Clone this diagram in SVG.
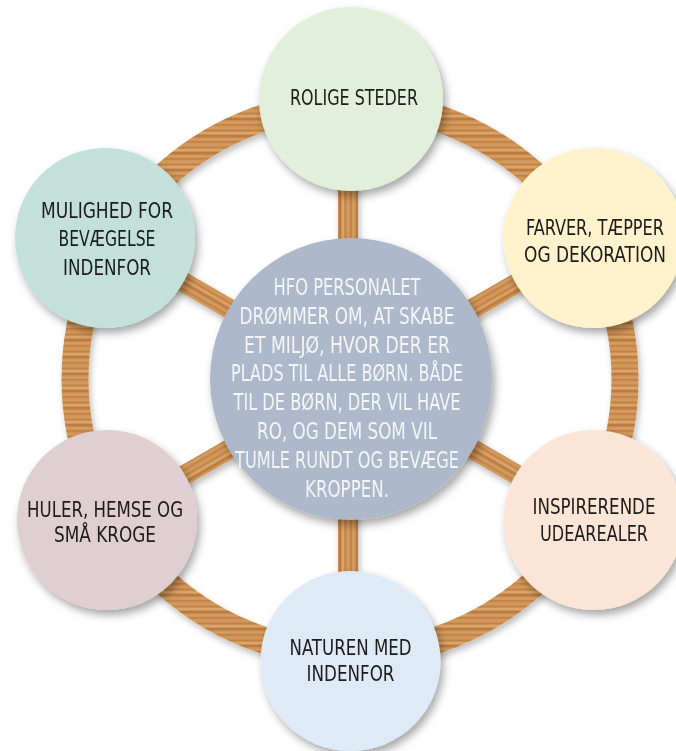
<svg xmlns="http://www.w3.org/2000/svg" width="676" height="751" viewBox="0 0 676 751">
<style>
.t{font-family:"Liberation Sans Narrow","DejaVu Sans Condensed","Liberation Sans",sans-serif;font-stretch:condensed;font-size:21.5px;fill:#1b1b1b;text-anchor:middle}
.c{font-family:"Liberation Sans Narrow","DejaVu Sans Condensed","Liberation Sans",sans-serif;font-stretch:condensed;font-size:22.5px;fill:#F4F5F7;text-anchor:middle}
.n{filter:url(#sh)}
</style>
<defs>
<filter id="sh" x="-20%" y="-20%" width="150%" height="150%">
<feDropShadow dx="3" dy="5" stdDeviation="4" flood-color="#000" flood-opacity="0.35"/>
</filter>
<filter id="shw" x="-10%" y="-10%" width="130%" height="130%">
<feDropShadow dx="2" dy="4" stdDeviation="3" flood-color="#000" flood-opacity="0.25"/>
</filter>
<pattern id="woodH" patternUnits="userSpaceOnUse" width="60" height="17">
<rect width="60" height="17" fill="#CD9052"/>
<rect y="0" width="60" height="1.2" fill="#BC7C40"/>
<rect y="2.5" width="60" height="2" fill="#D69E63"/>
<rect y="5.5" width="60" height="0.8" fill="#B8773C"/>
<rect y="7.5" width="60" height="2.5" fill="#D3995C"/>
<rect y="11" width="60" height="1" fill="#C08244"/>
<rect y="13" width="60" height="2.2" fill="#DAA56C"/>
<rect y="16" width="60" height="0.7" fill="#B3733A"/>
</pattern>
<pattern id="woodV" href="#woodH" patternTransform="rotate(90)"/>
<pattern id="woodA" href="#woodH" patternTransform="rotate(-30)"/>
<pattern id="woodB" href="#woodH" patternTransform="rotate(30)"/>
</defs>
<rect width="676" height="751" fill="#FFFFFF"/>
<g id="connectors" filter="url(#shw)">
<circle cx="350" cy="379" r="275" fill="none" stroke="url(#woodH)" stroke-width="27"/>
<line x1="348" y1="379" x2="348" y2="99" stroke="url(#woodV)" stroke-width="20"/>
<line x1="348" y1="379" x2="348" y2="659" stroke="url(#woodV)" stroke-width="20"/>
<line x1="351" y1="379" x2="593.5" y2="239" stroke="url(#woodA)" stroke-width="20"/>
<line x1="351" y1="379" x2="108.5" y2="519" stroke="url(#woodA)" stroke-width="20"/>
<line x1="351" y1="379" x2="593.5" y2="519" stroke="url(#woodB)" stroke-width="20"/>
<line x1="351" y1="379" x2="108.5" y2="239" stroke="url(#woodB)" stroke-width="20"/>
</g>
<g id="center" class="n">
<circle cx="351" cy="379" r="141" fill="#ADB9CA"/>
<text class="c" x="347" y="295" textLength="147" lengthAdjust="spacingAndGlyphs">HFO PERSONALET</text>
<text class="c" x="347" y="323.8" textLength="215" lengthAdjust="spacingAndGlyphs">DRØMMER OM, AT SKABE</text>
<text class="c" x="347" y="352.6" textLength="206" lengthAdjust="spacingAndGlyphs">ET MILJØ, HVOR  DER ER</text>
<text class="c" x="347" y="381.4" textLength="232" lengthAdjust="spacingAndGlyphs">PLADS TIL ALLE BØRN. BÅDE</text>
<text class="c" x="347" y="410.2" textLength="227" lengthAdjust="spacingAndGlyphs">TIL DE BØRN, DER VIL HAVE</text>
<text class="c" x="347" y="439" textLength="180" lengthAdjust="spacingAndGlyphs">RO, OG DEM SOM VIL</text>
<text class="c" x="347" y="467.8" textLength="224" lengthAdjust="spacingAndGlyphs">TUMLE RUNDT OG BEVÆGE</text>
<text class="c" x="347" y="496.6" textLength="84" lengthAdjust="spacingAndGlyphs">KROPPEN.</text>
</g>
<g id="rolige" class="n">
<circle cx="351" cy="99" r="92" fill="#E2EFDA"/>
<text class="t" x="354" y="104.5" textLength="128" lengthAdjust="spacingAndGlyphs">ROLIGE STEDER</text>
</g>
<g id="farver" class="n">
<circle cx="593.5" cy="238" r="90" fill="#FFF2CC"/>
<text class="t" x="595" y="234.5" textLength="138" lengthAdjust="spacingAndGlyphs">FARVER, TÆPPER</text>
<text class="t" x="595" y="261.5" textLength="142" lengthAdjust="spacingAndGlyphs">OG DEKORATION</text>
</g>
<g id="inspirerende" class="n">
<circle cx="593.5" cy="520" r="90" fill="#FBE5D6"/>
<text class="t" x="594" y="513.5" textLength="123" lengthAdjust="spacingAndGlyphs">INSPIRERENDE</text>
<text class="t" x="594" y="540.5" textLength="108" lengthAdjust="spacingAndGlyphs">UDEAREALER</text>
</g>
<g id="naturen" class="n">
<circle cx="350.5" cy="661" r="90" fill="#DEEBF7"/>
<text class="t" x="350.5" y="654.5" textLength="122" lengthAdjust="spacingAndGlyphs">NATUREN MED</text>
<text class="t" x="350.5" y="681" textLength="88" lengthAdjust="spacingAndGlyphs">INDENFOR</text>
</g>
<g id="huler" class="n">
<circle cx="107" cy="520" r="90" fill="#DFCED2"/>
<text class="t" x="105" y="516.5" textLength="156" lengthAdjust="spacingAndGlyphs">HULER, HEMSE OG</text>
<text class="t" x="105" y="542" textLength="102" lengthAdjust="spacingAndGlyphs">SMÅ KROGE</text>
</g>
<g id="mulighed" class="n">
<circle cx="105" cy="238" r="90" fill="#C3E0DB"/>
<text class="t" x="107" y="218" textLength="132" lengthAdjust="spacingAndGlyphs">MULIGHED FOR</text>
<text class="t" x="107" y="246" textLength="97" lengthAdjust="spacingAndGlyphs">BEVÆGELSE</text>
<text class="t" x="107" y="274.5" textLength="88" lengthAdjust="spacingAndGlyphs">INDENFOR</text>
</g>
</svg>
